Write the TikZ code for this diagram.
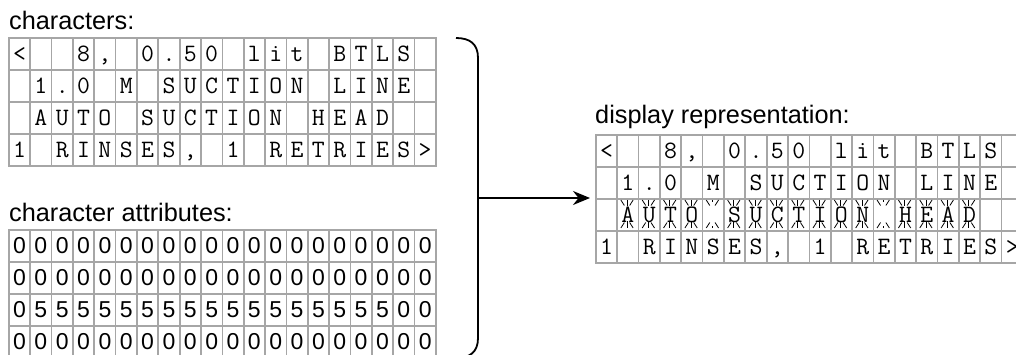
\documentclass[tikz,border=0pt]{standalone}
\usepackage{fontspec}
\setmainfont{Liberation Sans}
\usepackage{tikz}
\usetikzlibrary{arrows.meta,positioning,calc}
\definecolor{gridgray}{RGB}{166,166,166}

% the four lines of the display, one cell per item
\def\lcdrows{
  {<,{},{},8,{,},{},0,.,5,0,{},l,i,t,{},B,T,L,S,{}},
  {{},1,.,0,{},M,{},S,U,C,T,I,O,N,{},L,I,N,E,{}},
  {{},A,U,T,O,{},S,U,C,T,I,O,N,{},H,E,A,D,{},{}},
  {1,{},R,I,N,S,E,S,{,},{},1,{},R,E,T,R,I,E,S,>}}

\begin{document}
\begin{tikzpicture}[x=1pt,y=-1pt,
  cell/.style={draw=gridgray,line width=1.7pt,minimum width=21.35pt,minimum height=32pt,
    inner sep=0pt,anchor=north west,text height=15pt,text depth=0pt},
  chr/.style={cell,font=\fontsize{25}{25}\ttfamily},
  num/.style={cell,font=\fontsize{23}{23}\selectfont},
  title/.style={anchor=base west,inner sep=0pt,font=\fontsize{25.3}{27}\selectfont},
  blink/.style={line width=0.8pt}]
\useasboundingbox (0,0) rectangle (1016,355);
\clip (0,0) rectangle (1016,355);

% characters
\node[title] (chtitle) at (9,29.5) {characters:};
\foreach \row [count=\r] in \lcdrows {
  \foreach \ch [count=\c] in \row {
    \node[chr] (ch-\r-\c) at ({8+(\c-1)*21.35},{37.5+(\r-1)*32}) {\ch};
  }
}

% character attributes
\node[title] (attitle) at (9,221.5) {character attributes:};
\foreach \r in {1,...,4} {
  \foreach \c in {1,...,20} {
    \pgfmathtruncatemacro\val{ifthenelse(and(\r==3,and(\c>1,\c<19)),5,0)}
    \node[num] (at-\r-\c) at ({8+(\c-1)*21.35},{229+(\r-1)*32}) {\val};
  }
}

% display representation
\node[title] (dptitle) at (595,124) {display representation:};
\foreach \row [count=\r] in \lcdrows {
  \foreach \ch [count=\c] in \row {
    \node[chr] (dp-\r-\c) at ({595+(\c-1)*21.35},{134+(\r-1)*32}) {\ch};
  }
}

% blinking marks on the third line
\foreach \c in {2,...,18} {
  \pgfmathsetmacro\xa{595+(\c-1)*21.35}
  \draw[blink] (\xa+4.5,200) -- (\xa+8,205.5) (\xa+16.8,200) -- (\xa+13.3,205.5)
               (\xa+4.5,228) -- (\xa+8,222.5) (\xa+16.8,228) -- (\xa+13.3,222.5);
}
\foreach \c in {2,3,4,5,7,8,9,10,11,12,13,15,16,17,18} {
  \pgfmathsetmacro\xa{595+(\c-1)*21.35}
  \draw[blink] (\xa+10.7,200) -- (\xa+10.7,206.5) (\xa+10.7,228) -- (\xa+10.7,221.5);
}
\foreach \c in {6,14} {
  \pgfmathsetmacro\xa{595+(\c-1)*21.35}
  \draw[blink] (\xa+10.7,200) -- (\xa+10.7,202) (\xa+10.7,228) -- (\xa+10.7,226);
}

% brace and arrow
\coordinate (bracetop) at (456,38);
\coordinate (bracebot) at (456,358);
\coordinate (bracemid) at (478,198);
\coordinate (arrowend) at (590,198);
\draw[line width=1.8pt] (bracetop) .. controls (470,38) and (478,44) .. (478,58)
  -- (478,338) .. controls (478,352) and (470,358) .. (bracebot);
\draw[line width=1.8pt,-{Stealth[length=17pt,width=14pt]}] (bracemid) -- (arrowend);
\end{tikzpicture}
\end{document}
